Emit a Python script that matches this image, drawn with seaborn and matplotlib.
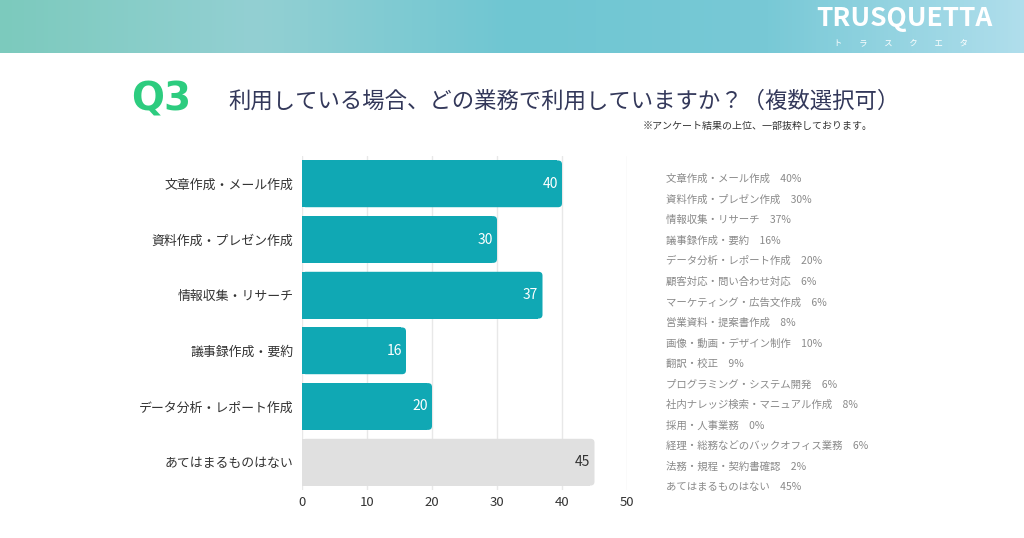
import numpy as np
import pandas as pd
import matplotlib
matplotlib.use("Agg")
import matplotlib.pyplot as plt
from matplotlib.colors import LinearSegmentedColormap
from matplotlib.patches import FancyBboxPatch, Rectangle
import seaborn as sns

# ------------------------------
#   data
# ------------------------------
categories = ["文章作成・メール作成", "資料作成・プレゼン作成", "情報収集・リサーチ",
              "議事録作成・要約", "データ分析・レポート作成", "あてはまるものはない"]
values = [40, 30, 37, 16, 20, 45]

all_items = ["文章作成・メール作成", "資料作成・プレゼン作成", "情報収集・リサーチ",
             "議事録作成・要約", "データ分析・レポート作成", "顧客対応・問い合わせ対応",
             "マーケティング・広告文作成", "営業資料・提案書作成", "画像・動画・デザイン制作",
             "翻訳・校正", "プログラミング・システム開発", "社内ナレッジ検索・マニュアル作成",
             "採用・人事業務", "経理・総務などのバックオフィス業務", "法務・規程・契約書確認",
             "あてはまるものはない"]
all_values = [40, 30, 37, 16, 20, 6, 6, 8, 10, 9, 6, 8, 0, 6, 2, 45]

df = pd.DataFrame({"item": categories, "pct": values})

sns.set_style("white")
plt.rcParams["font.family"] = ["Noto Sans CJK JP", "DejaVu Sans"]

fig = plt.figure(figsize=(10.24, 5.38), dpi=100)

# ------------------------------
#   header band
# ------------------------------
hdr = fig.add_axes([0, 1 - 53 / 538, 1, 53 / 538])
cmap = LinearSegmentedColormap.from_list(
    "hdr", ["#7ccabd", "#93d0d3", "#6fc6d2", "#78c9d6", "#b0deec"])
hdr.imshow(np.linspace(0, 1, 256).reshape(1, -1), aspect="auto", cmap=cmap,
           extent=[0, 1, 0, 1])
hdr.set_axis_off()
fig.text(904 / 1024, 1 - 18 / 538, "TRUSQUETTA", color="white", fontsize=19,
         fontweight="bold", ha="center", va="center")
fig.text(901 / 1024, 1 - 43 / 538, "ト　　ラ　　ス　　ク　　エ　　タ", color="white",
         fontsize=6, ha="center", va="center")

# ------------------------------
#   title
# ------------------------------
fig.text(131 / 1024, 1 - 99 / 538, "Q3", color="#2dcc7f", fontsize=28,
         fontweight="bold", ha="left", va="center", family=["DejaVu Sans"])
fig.text(228 / 1024, 1 - 101 / 538, "利用している場合、どの業務で利用していますか？（複数選択可）",
         color="#33385a", fontsize=16.1, ha="left", va="center")
fig.text(873 / 1024, 1 - 126 / 538, "※アンケート結果の上位、一部抜粋しております。",
         color="#333333", fontsize=7.2, ha="right", va="center")

# ------------------------------
#   bar chart
# ------------------------------
ax = fig.add_axes([302 / 1024, 48 / 538, 325 / 1024, 334 / 538])
palette = ["#10a8b4"] * 5 + ["#e0e0e0"]
sns.barplot(data=df, y="item", x="pct", hue="item", palette=palette,
            width=0.84, legend=False, ax=ax, saturation=1)
ax.set_xlim(0, 50)
ax.set_xticks([0, 10, 20, 30, 40, 50])
ax.set_xlabel("")
ax.set_ylabel("")
ax.grid(axis="x", color="#e8e8e8", linewidth=1)
ax.set_axisbelow(True)
for s in ax.spines.values():
    s.set_visible(False)
ax.tick_params(axis="y", length=0, pad=6, labelsize=9.3, labelcolor="#333333")
ax.tick_params(axis="x", length=0, pad=4, labelsize=9.5, labelcolor="#333333")

for i, c in enumerate(ax.containers):
    col = "#333333" if i == len(ax.containers) - 1 else "white"
    ax.bar_label(c, padding=-14, color=col, fontsize=10)

# rounded right-hand corners
asp = (6 / 334) / (50 / 325)
for p in list(ax.patches):
    x0, y0, w, h = p.get_x(), p.get_y(), p.get_width(), p.get_height()
    fc = p.get_facecolor()
    p.set_visible(False)
    ax.add_patch(FancyBboxPatch((x0, y0), w, h,
                                boxstyle="round,pad=0,rounding_size=0.6",
                                mutation_aspect=asp, fc=fc, ec="none", zorder=2))
    ax.add_patch(Rectangle((x0, y0), w - 0.7, h, fc=fc, ec="none", zorder=2))

# ------------------------------
#   right-hand list
# ------------------------------
for i, (name, v) in enumerate(zip(all_items, all_values)):
    y = 179 + i * 20.55
    fig.text(666 / 1024, 1 - y / 538, f"{name}　{v}%", color="#8a8a8a",
             fontsize=7.5, ha="left", va="center")

fig.savefig("out.png", dpi=100)
